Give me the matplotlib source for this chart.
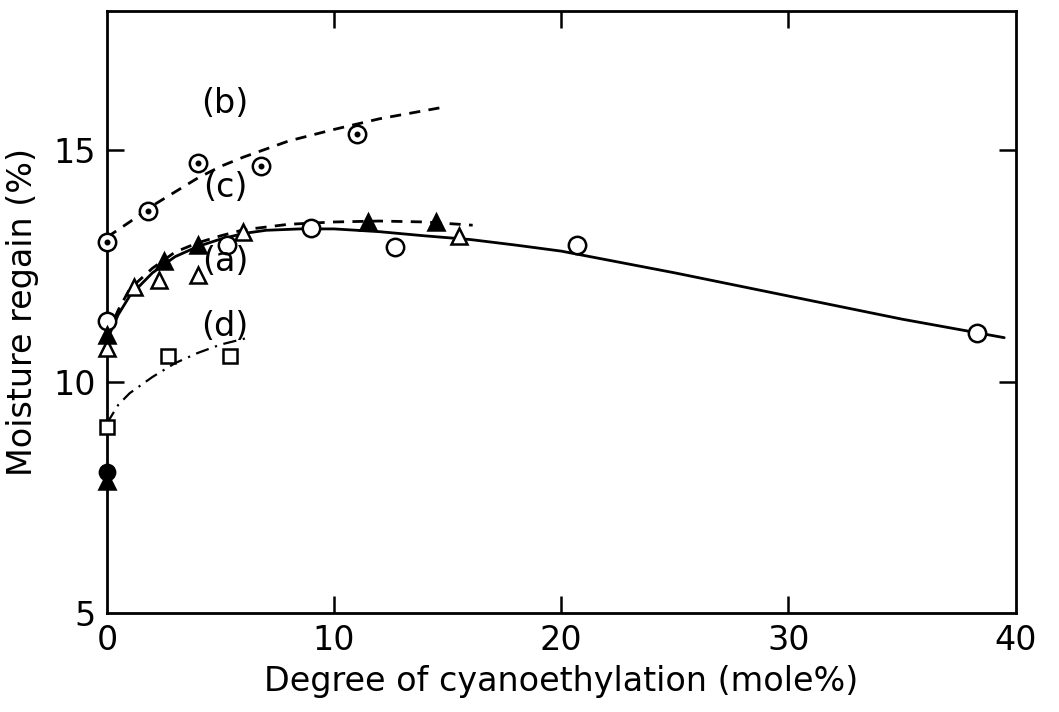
import numpy as np
import matplotlib
matplotlib.use("Agg")
import matplotlib.pyplot as plt

plt.rcParams["font.family"] = ["DejaVu Sans"]

a_x = [0, 5.3, 9.0, 12.7, 20.7, 38.3]
a_y = [11.3, 12.96, 13.32, 12.91, 12.96, 11.06]

b_x = [0, 1.8, 4.0, 6.8, 11.0]
b_y = [13.02, 13.69, 14.72, 14.66, 15.34]

c_open_x = [0, 1.2, 2.3, 4.0, 6.0, 15.5]
c_open_y = [10.72, 12.05, 12.2, 12.3, 13.24, 13.15]
c_fill_x = [0, 2.5, 4.0, 11.5, 14.5]
c_fill_y = [11.0, 12.6, 12.96, 13.45, 13.45]

d_x = [0, 2.7, 5.4]
d_y = [9.02, 10.55, 10.55]

base_circle = (0, 8.05)
base_tri = (0, 7.85)

# fitted curves
a_cx = [0, 0.5, 1, 2, 3, 4, 5, 6, 7, 8.5, 10, 12, 14, 16, 18, 20, 25, 30, 35, 39.5]
a_cy = [10.9, 11.45, 11.85, 12.35, 12.7, 12.92, 13.08, 13.2, 13.27, 13.3, 13.3,
        13.24, 13.15, 13.07, 12.95, 12.82, 12.35, 11.85, 11.35, 10.95]

b_cx = [0, 1, 2, 3, 4, 5, 6, 8, 10, 12, 14.7]
b_cy = [13.12, 13.45, 13.8, 14.1, 14.4, 14.65, 14.85, 15.2, 15.45, 15.68, 15.92]

c_cx = [0, 0.5, 1, 2, 3, 4, 5, 6, 8, 10, 12, 14, 16.1]
c_cy = [11.0, 11.55, 12.0, 12.45, 12.8, 13.0, 13.15, 13.28, 13.4, 13.45, 13.47, 13.45, 13.38]

d_cx = [0, 0.5, 1, 2, 3, 4, 5, 6.3]
d_cy = [9.1, 9.5, 9.75, 10.1, 10.4, 10.62, 10.8, 10.96]

labels = ["(b)", "(c)", "(a)", "(d)"]
label_pos = [(5.2, 16.0), (5.2, 14.2), (5.2, 12.6), (5.2, 11.2)]


fig = plt.figure(figsize=(10.59, 7.12), dpi=100)
ax = fig.add_axes([0.101, 0.139, 0.858, 0.845])

lw = 2.0
ax.plot(a_cx, a_cy, color="black", lw=lw, solid_capstyle="round", clip_on=False)
ax.plot(b_cx, b_cy, color="black", lw=lw, ls=(0, (4, 3)), clip_on=False)
ax.plot(c_cx, c_cy, color="black", lw=lw, ls=(0, (4, 3)), clip_on=False)
ax.plot(d_cx, d_cy, color="black", lw=1.6, ls=(0, (6, 3, 1, 3)), clip_on=False)

mk = dict(ls="none", color="black", markeredgewidth=1.8, clip_on=False, zorder=3)
ax.plot(a_x, a_y, marker="o", ms=12.5, markerfacecolor="white", **mk)
ax.plot(b_x, b_y, marker="o", ms=12.5, markerfacecolor="white", **mk)
ax.plot(b_x, b_y, marker="o", ms=2.5, markerfacecolor="black", **mk)
ax.plot(c_open_x, c_open_y, marker="^", ms=12, markerfacecolor="white", **mk)
ax.plot(c_fill_x, c_fill_y, marker="^", ms=12, markerfacecolor="black", **mk)
ax.plot(d_x, d_y, marker="s", ms=10, markerfacecolor="white", **mk)
ax.plot([base_tri[0]], [base_tri[1]], marker="^", ms=11, markerfacecolor="black", **mk)
ax.plot([base_circle[0]], [base_circle[1]], marker="o", ms=11, markerfacecolor="black", **mk)

for text, (x, y) in zip(labels, label_pos):
    ax.text(x, y, text, fontsize=24, ha="center", va="center")

ax.set_xlim(0, 40)
ax.set_ylim(5, 18)
ax.set_xticks([0, 10, 20, 30, 40])
ax.set_yticks([5, 10, 15])
ax.tick_params(direction="in", length=12, width=1.8, labelsize=24,
               top=True, right=True, pad=8)
for s in ax.spines.values():
    s.set_linewidth(2.0)

# no tick marks at the corners, only the labels
for i in (0, -1):
    t = ax.xaxis.get_major_ticks()[i]
    t.tick1line.set_visible(False)
    t.tick2line.set_visible(False)
t = ax.yaxis.get_major_ticks()[0]
t.tick1line.set_visible(False)
t.tick2line.set_visible(False)

ax.set_xlabel("Degree of cyanoethylation (mole%)", fontsize=24, labelpad=6)
ax.set_ylabel("Moisture regain (%)", fontsize=24, labelpad=10)

fig.savefig("out.png", dpi=100)
